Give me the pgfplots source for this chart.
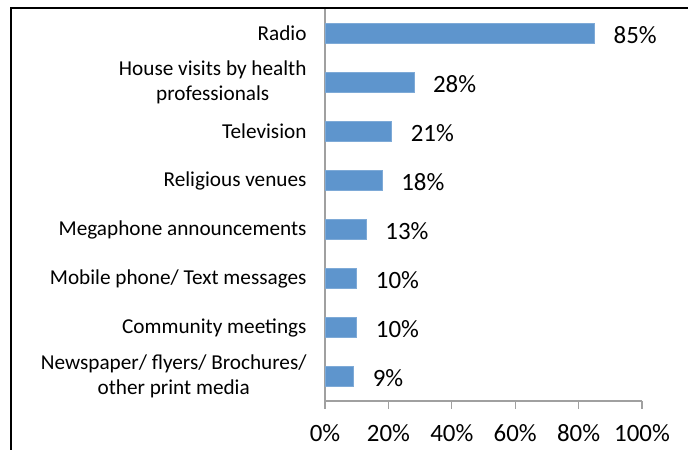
\documentclass[border=0pt]{standalone}
\usepackage{pgfplots}
\pgfplotsset{compat=1.18}
\usepackage{fontspec}
\setmainfont{Carlito}
\definecolor{barblue}{RGB}{94,149,205}
\definecolor{axgray}{RGB}{160,160,160}
\begin{document}
\begin{tikzpicture}[x=1bp,y=1bp]
\path[use as bounding box] (0,0) rectangle (688,450);
\begin{axis}[
  at={(325bp,49bp)}, anchor=south west,
  scale only axis, width=317bp, height=392bp,
  xbar, bar width=20bp,
  xmin=0, xmax=100, ymin=-0.5, ymax=7.5,
  axis x line*=bottom, axis y line*=left,
  axis line style={axgray, line width=1.3bp, -},
  xtick={0,20,40,60,80,100},
  xticklabel={\pgfmathprintnumber{\tick}\%},
  /pgf/number format/assume math mode=true,
  xtick style={axgray, line width=1.3bp},
  x tick label style={font=\fontsize{25}{30}\selectfont, yshift=-12bp},
  major tick length=8bp,
  tick align=outside,
  ytick={0,...,7},
  yticklabels={{Newspaper/ flyers/ Brochures/\\other print media},
    {Community meetings},{Mobile phone/ Text messages},{Megaphone announcements},
    {Religious venues},{Television},{House visits by health\\professionals},{Radio}},
  y tick label style={font=\fontsize{21.3}{25}\selectfont, align=center, xshift=-7bp},
  ytick style={draw=none},
  minor ytick={-0.5,0.5,...,7.5},
  minor tick length=6bp,
  every minor tick/.style={axgray, line width=1.3bp},
  point meta=x,
  nodes near coords={\pgfmathprintnumber{\pgfplotspointmeta}\%},
  every node near coord/.append style={font=\fontsize{25}{30}\selectfont, anchor=west, inner sep=0pt, xshift=19bp, yshift=-2bp, black},
  clip=false,
]
\addplot[fill=barblue, draw=barblue!80!white, line width=0.5bp] coordinates {
  (9,0) (10,1) (10,2) (13,3) (18,4) (21,5) (28,6) (85,7)
};
\end{axis}
\draw[black, line width=2bp] (11,0) -- (11,442) -- (688,442);
\end{tikzpicture}
\end{document}
